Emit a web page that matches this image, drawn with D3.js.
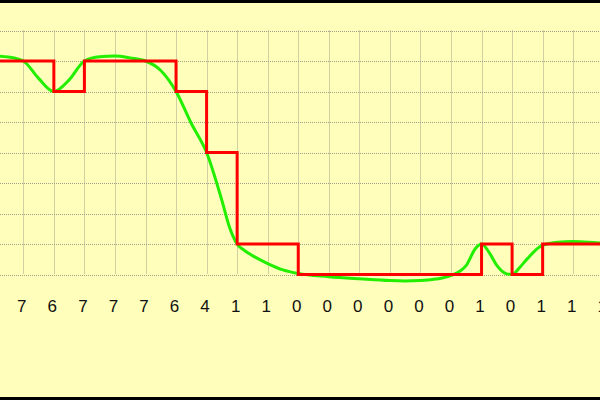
<!DOCTYPE html>
<html><head><meta charset="utf-8">
<script src="https://cdn.jsdelivr.net/npm/d3@7"></script>
<style>html,body{margin:0;padding:0;background:#ffffbb;}svg{display:block;}</style>
</head><body>
<script>
// sample indices (first one is off-screen left) and quantized values
const sampleIndex = [-1,0,1,2,3,4,5,6,7,8,9,10,11,12,13,14,15,16,17,18,19];
const sampleValues = [7,7,6,7,7,7,6,4,1,1,0,0,0,0,0,0,1,0,1,1,1];
// analog (smooth) signal: positions in sample units, values
const analogPos = [-1,-0.5,0,0.5,1,1.5,2,2.5,3,3.5,4,4.5,5,5.5,6,6.5,6.75,7,7.25,7.5,8,8.5,9,10,11,12,12.5,13,13.5,14,14.5,14.8,15,15.25,15.5,15.8,16,16.25,16.5,17,17.5,18,18.5,19];
const analogVal = [7.17,7.13,7.0,6.43,6.0,6.38,7.0,7.14,7.16,7.1,7.0,6.69,6.0,4.95,4.0,2.43,1.55,1.0,0.78,0.62,0.36,0.15,0.03,-0.07,-0.14,-0.2,-0.21,-0.2,-0.15,-0.03,0.3,0.85,1.0,0.72,0.3,0.03,0.0,0.23,0.52,0.96,1.06,1.08,1.06,1.02];
const yTicks = [0,1,2,3,4,5,6,7,8];

const W = 600, H = 400;
const svg = d3.select("body").append("svg").attr("width", W).attr("height", H);
svg.append("rect").attr("width", W).attr("height", H).attr("fill", "#ffffbb");
svg.append("rect").attr("x",0).attr("y",0).attr("width",W).attr("height",3).attr("fill","#000");
svg.append("rect").attr("x",0).attr("y",397).attr("width",W).attr("height",3).attr("fill","#000");

const x = d3.scaleLinear().domain([0, 19]).range([23.3, 23.3 + 30.55*19]);
const y = d3.scaleLinear().domain([0, 8]).range([274.5, 30.5]);

// grid
const g = svg.append("g");
g.selectAll("line.h").data(yTicks).join("line").attr("class","h")
  .attr("x1",0).attr("x2",W).attr("y1",d=>Math.round(y(d))+0.5).attr("y2",d=>Math.round(y(d))+0.5)
  .attr("stroke","#a0a088").attr("stroke-width",1).attr("stroke-dasharray","1,1");
g.selectAll("line.v").data(sampleIndex.filter(d=>d>=0)).join("line").attr("class","v")
  .attr("x1",d=>Math.round(x(d))+0.5).attr("x2",d=>Math.round(x(d))+0.5)
  .attr("y1",y(8)).attr("y2",y(0))
  .attr("stroke","#a0a088").attr("stroke-width",1).attr("stroke-dasharray","1,1");

// analog curve
const analog = analogPos.map((p,i)=>[p, analogVal[i]]);
svg.append("path").datum(analog)
  .attr("d", d3.line().x(d=>x(d[0])).y(d=>y(d[1])).curve(d3.curveMonotoneX))
  .attr("fill","none").attr("stroke","#22ee00").attr("stroke-width",3);

// step
const steps = sampleIndex.map((k,i)=>[k, sampleValues[i]]);
steps.push([20, sampleValues[sampleValues.length-1]]);
svg.append("path").datum(steps)
  .attr("d", d3.line().x(d=>x(d[0])).y(d=>y(d[1])).curve(d3.curveStepAfter))
  .attr("fill","none").attr("stroke","#ff0000").attr("stroke-width",3).attr("stroke-linejoin","miter");

// labels (visible samples only)
svg.selectAll("text.lab").data(steps.filter(d=>d[0]>=0 && d[0]<=19)).join("text").attr("class","lab")
  .attr("x", d=>x(d[0]) - 1.5).attr("y", 312)
  .attr("text-anchor","middle").attr("font-family","Liberation Sans, Arial, sans-serif")
  .attr("font-size", 17).attr("fill","#111").text(d=>d[1]);
</script>
</body></html>
